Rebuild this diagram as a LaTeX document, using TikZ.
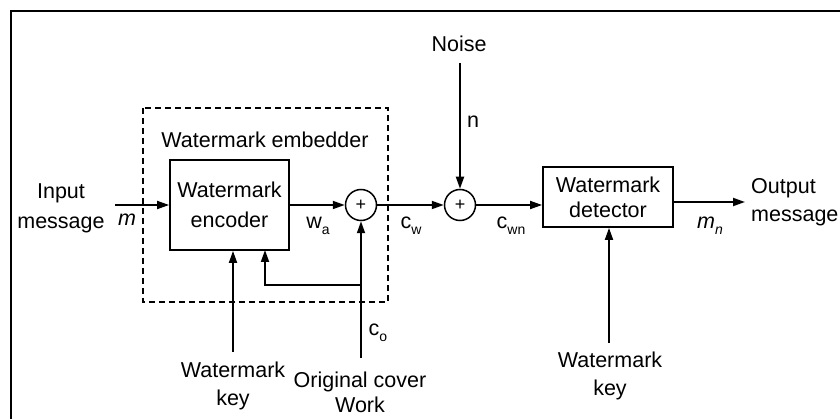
\documentclass[tikz,border=0pt]{standalone}
\usepackage{fontspec}
\setmainfont{Liberation Sans}
\usetikzlibrary{arrows.meta}
\newcommand\lowsub[1]{\raisebox{-0.5ex}{\fontsize{14}{14}\selectfont #1}}
\begin{document}
\begin{tikzpicture}[x=1pt,y=-1pt,
  font=\fontsize{21.5}{28}\selectfont,
  blk/.style={draw, line width=1.8pt, align=center, inner sep=2pt},
  adder/.style={draw, circle, line width=1.5pt, minimum size=31pt, inner sep=0pt, font=\fontsize{18}{18}\selectfont},
  arr/.style={line width=1.8pt, -{Triangle[length=12pt,width=8pt]}},
  lbl/.style={inner sep=1pt, align=center}]
\useasboundingbox (0,0) rectangle (840,419);
\fill[white] (0,0) rectangle (840,419);
% frame
\draw[line width=2.4pt] (11,419) -- (11,11) -- (840,11);
% embedder dashed box
\draw[line width=1.6pt, dash pattern=on 6pt off 4pt] (143,108) rectangle (388,302);
\node[lbl] (embl) at (265,140) {Watermark embedder};
% blocks
\node[blk, minimum width=119pt, minimum height=90pt, font=\fontsize{21.5}{30}\selectfont] (enc) at (229.5,205) {Watermark\\encoder};
\node[blk, minimum width=130pt, minimum height=60pt, font=\fontsize{21.5}{25}\selectfont] (det) at (608,197) {Watermark\\detector};
\node[adder] (add1) at (361,205) {+};
\node[adder] (add2) at (460,205) {+};
% texts
\node[lbl, font=\fontsize{21.5}{30}\selectfont] (inp) at (61,208) {Input\\message};
\node[lbl] (m) at (127,220) {\textit{m}};
\node[lbl] (noise) at (459,44) {Noise};
\node[lbl] (n) at (473,122) {n};
\node[lbl] (wa) at (318,226) {w\lowsub{a}};
\node[lbl] (cw) at (411,226) {c\lowsub{w}};
\node[lbl] (cwn) at (511,226) {c\lowsub{wn}};
\node[lbl] (mn) at (710,226) {\textit{m}\lowsub{\textit{n}}};
\node[lbl, align=left, anchor=west, font=\fontsize{21.5}{28}\selectfont] (outp) at (750,202) {Output\\message};
\node[lbl] (co) at (378,333) {c\lowsub{o}};
\node[lbl] (ekey) at (233,386) {Watermark\\key};
\node[lbl, font=\fontsize{21.5}{25}\selectfont] (cover) at (360,392) {Original cover\\Work};
\node[lbl] (dkey) at (610,376) {Watermark\\key};
% coordinates
\coordinate (inS) at (115,205);
\coordinate (outE) at (745,202);
\coordinate (ek) at (233,352);
\coordinate (fb) at (361,285);
\coordinate (fbx) at (265,250);
\coordinate (cov) at (361,358);
\coordinate (dk) at (609,343);
\coordinate (nz) at (460,63);
% connectors
\draw[arr] (inS) -- (enc.west);
\draw[arr] (enc.east) -- (add1.west);
\draw[arr] (add1.east) -- (add2.west);
\draw[arr] (add2.east) -- (add2.east -| det.west);
\draw[arr] (outE -| det.east) -- (outE);
\draw[arr] (nz) -- (add2.north);
\draw[arr] (ek) -- (ek |- enc.south);
\draw[arr] (fb) -| (fbx);
\draw[arr] (cov) -- (add1.south);
\draw[arr] (dk) -- (dk |- det.south);
\end{tikzpicture}
\end{document}
